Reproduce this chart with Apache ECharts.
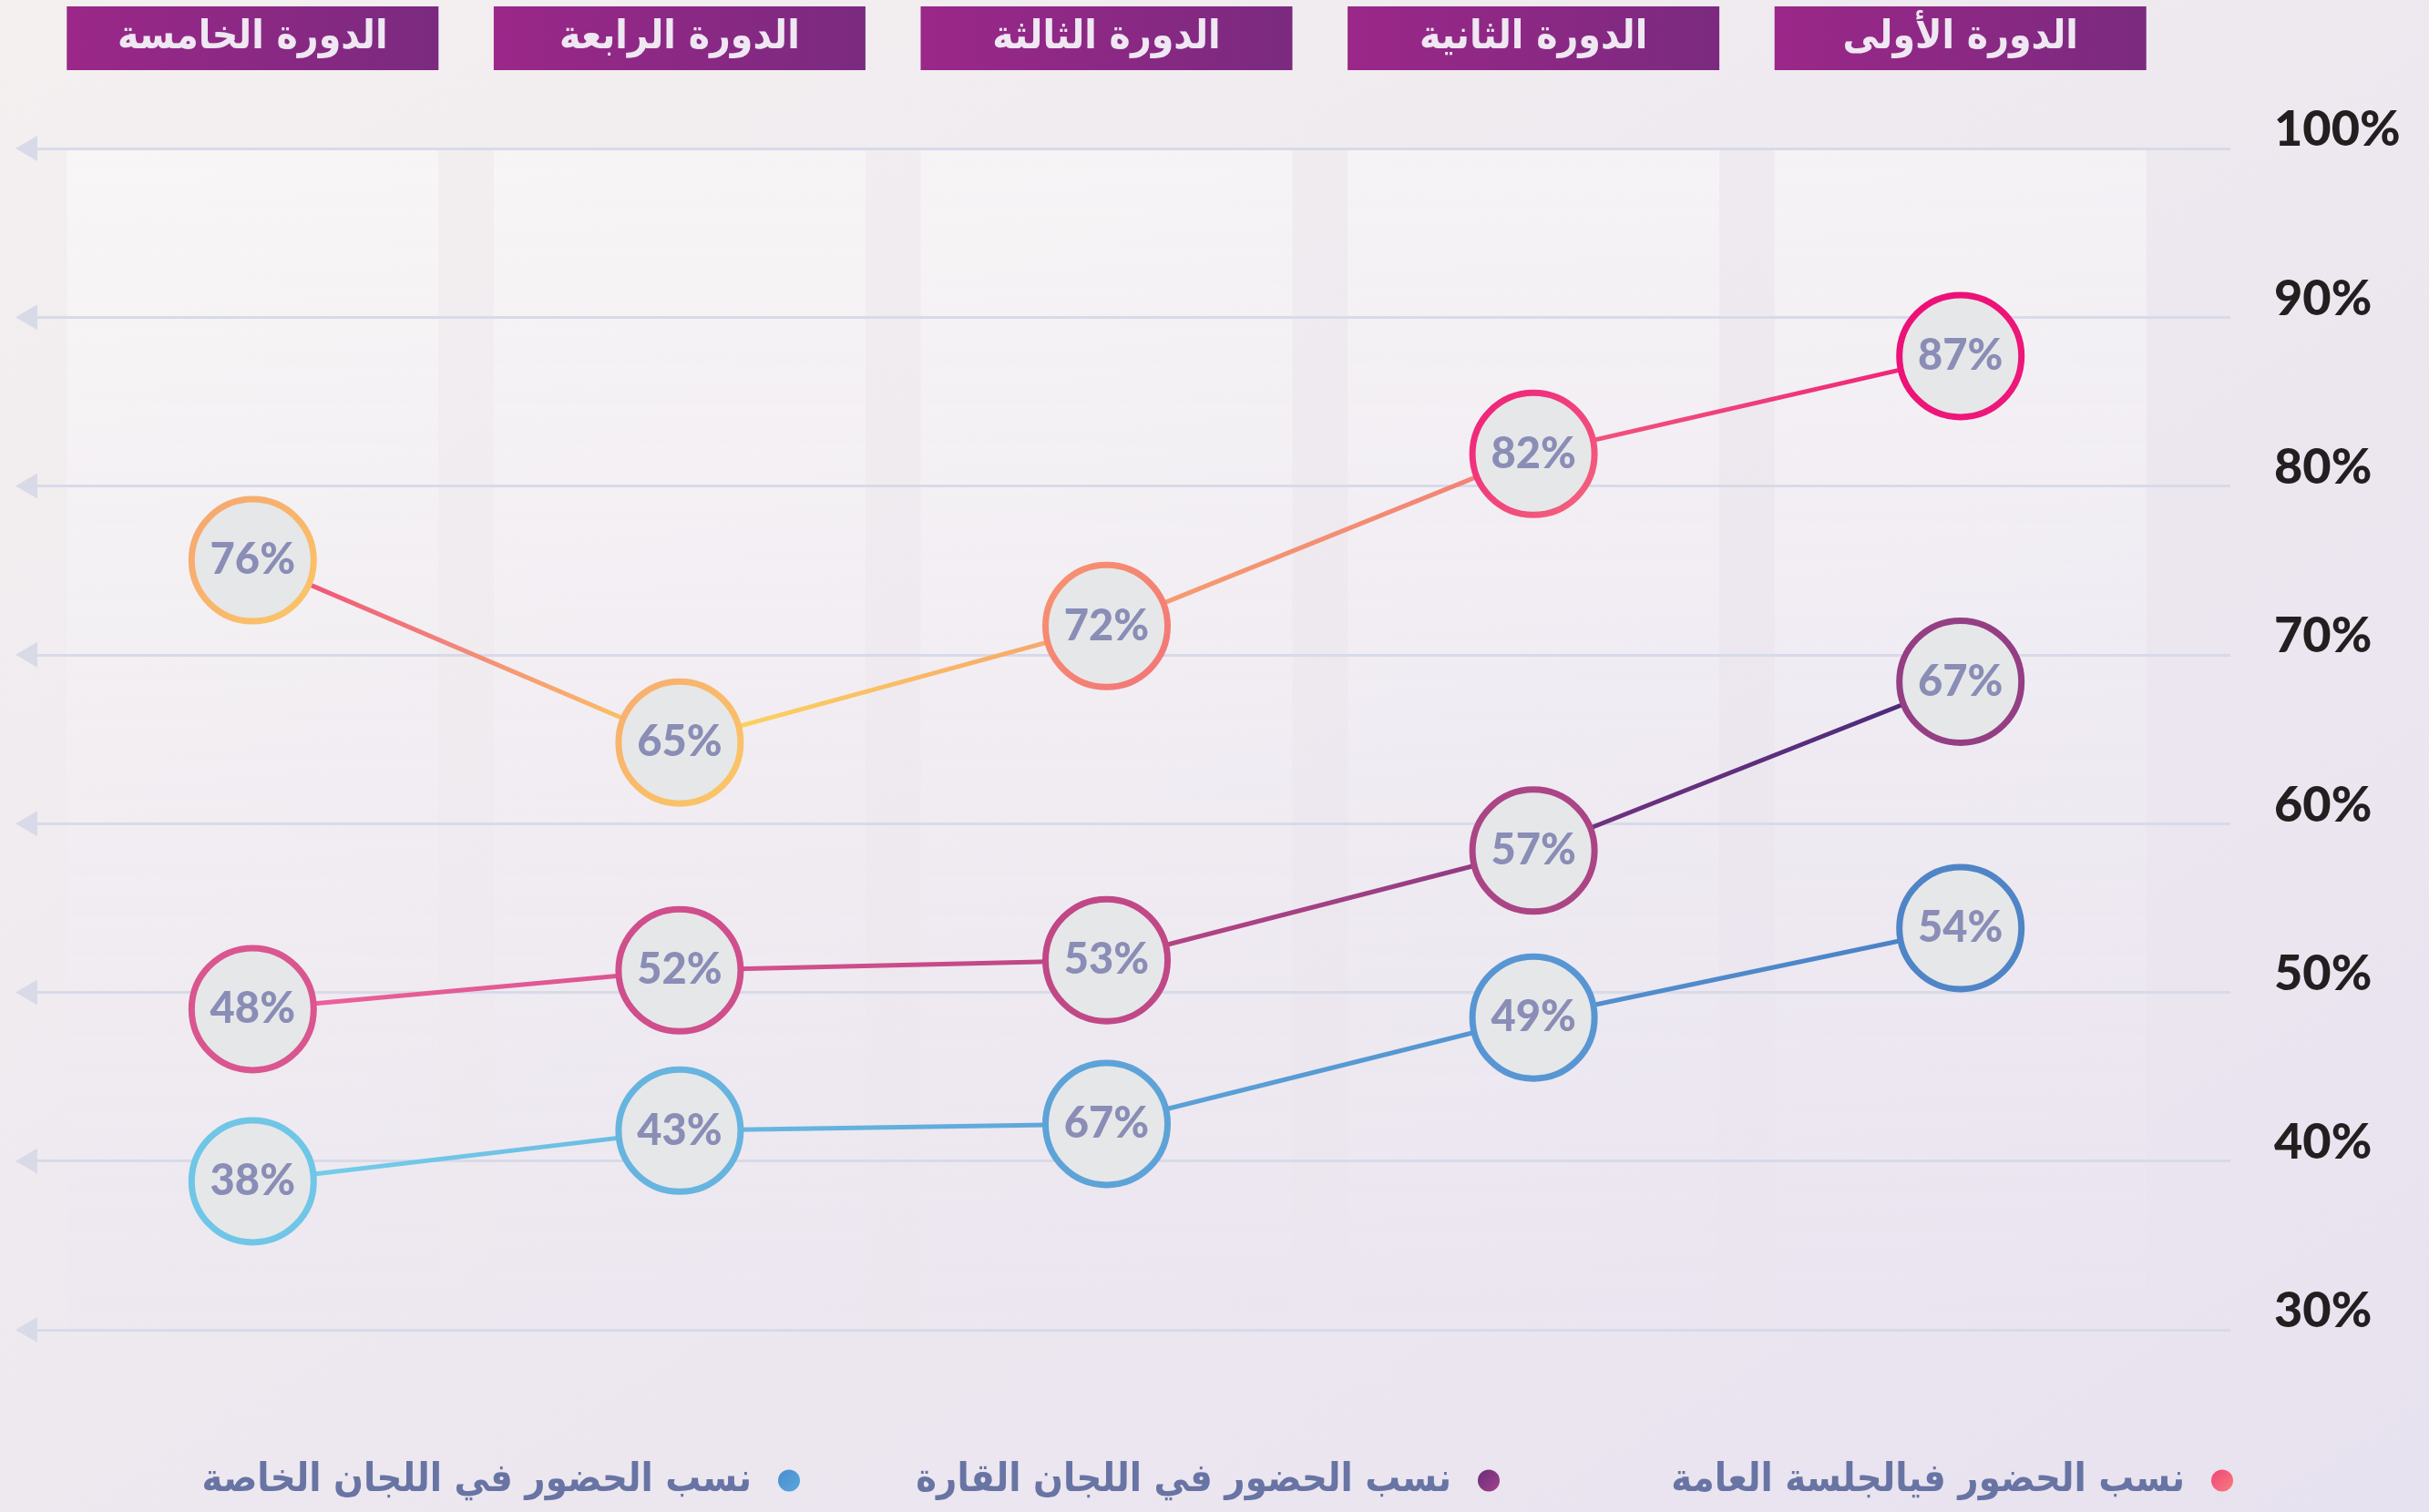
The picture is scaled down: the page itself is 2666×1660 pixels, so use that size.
<!DOCTYPE html>
<html>
<head>
<meta charset="utf-8">
<script src="https://cdn.jsdelivr.net/npm/echarts@6/dist/echarts.min.js"></script>
<style>
  html, body { margin: 0; padding: 0; }
  body { background: linear-gradient(to bottom right, #f4f0f0, #ede8ef 55%, #e7e2ef); }
  #chart { width: 2666px; height: 1660px; }
</style>
</head>
<body>
<div id="chart"></div>
<script>
// الدورات من اليسار إلى اليمين
const categories = ['الدورة الخامسة', 'الدورة الرابعة', 'الدورة الثالثة', 'الدورة الثانية', 'الدورة الأولى'];
const seriesNames = ['نسب الحضور فيالجلسة العامة', 'نسب الحضور في اللجان القارة', 'نسب الحضور في اللجان الخاصة'];

// positions, labels as printed
const generalValues = [75.6, 64.8, 71.7, 81.9, 87.7];
const generalLabels = ['76%', '65%', '72%', '82%', '87%'];
const standingValues = [49.0, 51.3, 51.9, 58.4, 68.4];
const standingLabels = ['48%', '52%', '53%', '57%', '67%'];
const specialValues = [38.8, 41.8, 42.2, 48.5, 53.8];
const specialLabels = ['38%', '43%', '67%', '49%', '54%'];

const yTicks = [30, 40, 50, 60, 70, 80, 90, 100];
const bandTop = [100, 100, 100, 100, 100];
const headerFill = [1, 1, 1, 1, 1];

const G = echarts.graphic.LinearGradient;
const arabicFont = '"DejaVu Sans Condensed", "DejaVu Sans", sans-serif';
const numFont = 'Lato, "Open Sans", sans-serif';

function grad(c1, c2) {
    return new G(0, 0, 1, 1, [{offset: 0, color: c1}, {offset: 1, color: c2}]);
}

const generalBorders = [grad('#f5a472', '#fbc866'), grad('#f7ad70', '#fbc865'), grad('#f7946f', '#f27479'),
    grad('#ee1b7b', '#f36a7d'), grad('#ec0e77', '#ee1a7a')];
const standingBorders = ['#d9568f', '#cf4e8b', '#c14886', '#ab4585', '#943f84'];
const specialBorders = ['#6fc6e6', '#66b4df', '#5da3d8', '#5896d3', '#4f85c6'];

function points(values, borders) {
    return values.map(function (v, i) {
        return {value: v, itemStyle: {borderColor: borders[i]}};
    });
}

function circleLabel(labels) {
    return {
        show: true,
        position: 'inside',
        formatter: function (p) { return labels[p.dataIndex]; },
        color: '#8a8db5',
        fontFamily: numFont,
        fontWeight: 900,
        fontSize: 47
    };
}

let myChart = echarts.init(document.getElementById('chart'));

let lineSeries = function (idx, values, labels, borders, lineColor) {
    return {
        name: seriesNames[idx],
        type: 'line',
        xAxisIndex: 0,
        yAxisIndex: 0,
        data: points(values, borders),
        symbol: 'circle',
        symbolSize: 134,
        z: 5,
        lineStyle: {width: 5, color: lineColor},
        itemStyle: {color: '#e6e7e9', borderWidth: 7},
        label: circleLabel(labels),
        emphasis: {disabled: true}
    };
};

function legendFor(idx, right, c1, c2) {
    return {
        data: [{name: seriesNames[idx], icon: 'circle', itemStyle: {color: grad(c1, c2)}}],
        right: right,
        top: 1599,
        align: 'right',
        itemWidth: 24,
        itemHeight: 24,
        selectedMode: false,
        textStyle: {
            color: '#6874a4',
            fontFamily: arabicFont,
            fontWeight: 'bold',
            fontSize: 43,
            padding: [0, 24, 0, 0]
        }
    };
}

let option = {
    animation: false,
    grid: [
        {left: 43, right: 280, top: 163, bottom: 200},
        {left: 29, right: 218, top: 163, bottom: 200},
        {left: 43, right: 280, top: 7, height: 70}
    ],
    xAxis: [
        {type: 'category', gridIndex: 0, data: categories, show: false},
        {type: 'value', gridIndex: 1, min: 0, max: 1, show: false},
        {type: 'category', gridIndex: 2, data: categories, show: false}
    ],
    yAxis: [
        {type: 'value', gridIndex: 0, min: 30, max: 100, interval: 10, show: false},
        {
            type: 'value', gridIndex: 1, min: 30, max: 100, interval: 10, position: 'right',
            axisLine: {show: false}, axisTick: {show: false}, splitLine: {show: false},
            axisLabel: {
                formatter: '{value}%',
                align: 'left',
                margin: 48,
                verticalAlign: 'bottom',
                lineHeight: 40,
                color: '#231f20',
                fontFamily: numFont,
                fontWeight: 900,
                fontSize: 54
            }
        },
        {type: 'value', gridIndex: 2, min: 0, max: 1, show: false}
    ],
    legend: [
        legendFor(0, 210, '#f0437a', '#f57f7b'),
        legendFor(1, 1015, '#6a2d7c', '#a3418a'),
        legendFor(2, 1783, '#4a8ecf', '#5ba6db')
    ],
    series: [
        {
            // الأشرطة الفاتحة خلف كل دورة
            type: 'bar',
            xAxisIndex: 0,
            yAxisIndex: 0,
            data: bandTop,
            barWidth: 408,
            silent: true,
            z: 0,
            itemStyle: {
                color: new G(0, 0, 0, 1, [
                    {offset: 0, color: 'rgba(255,255,255,0.42)'},
                    {offset: 1, color: 'rgba(236,230,242,0.3)'}
                ])
            }
        },
        {
            // خطوط الشبكة مع الأسهم
            type: 'line',
            xAxisIndex: 1,
            yAxisIndex: 1,
            data: [],
            silent: true,
            markLine: {
                silent: true,
                symbol: ['triangle', 'none'],
                symbolSize: [28, 24],
                label: {show: false},
                lineStyle: {color: '#d8dae8', width: 3, type: 'solid'},
                emphasis: {disabled: true},
                data: yTicks.map(function (v) { return {yAxis: v}; })
            }
        },
        {
            // عناوين الدورات
            type: 'bar',
            xAxisIndex: 2,
            yAxisIndex: 2,
            data: headerFill,
            barWidth: 408,
            silent: true,
            itemStyle: {
                color: new G(0, 0, 1, 0, [
                    {offset: 0, color: '#9b2789'},
                    {offset: 1, color: '#7b2a80'}
                ])
            },
            label: {
                show: true,
                position: 'inside',
                formatter: '{b}',
                color: '#efe7f2',
                fontFamily: arabicFont,
                fontWeight: 'bold',
                fontSize: 44
            }
        },
        lineSeries(0, generalValues, generalLabels, generalBorders, new G(0, 0, 1, 0, [
            {offset: 0, color: '#ee4477'},
            {offset: 0.12, color: '#f2867a'},
            {offset: 0.236, color: '#fcc962'},
            {offset: 0.24, color: '#fddc5c'},
            {offset: 0.5, color: '#f6a06e'},
            {offset: 0.74, color: '#f27f77'},
            {offset: 0.75, color: '#f25a7d'},
            {offset: 1, color: '#ee1f78'}
        ])),
        lineSeries(1, standingValues, standingLabels, standingBorders, new G(0, 0, 1, 0, [
            {offset: 0, color: '#f0639b'},
            {offset: 0.24, color: '#d9548f'},
            {offset: 0.5, color: '#bb4584'},
            {offset: 0.74, color: '#8c3b82'},
            {offset: 0.76, color: '#74337f'},
            {offset: 1, color: '#47297a'}
        ])),
        lineSeries(2, specialValues, specialLabels, specialBorders, new G(0, 0, 1, 0, [
            {offset: 0, color: '#76d0ea'},
            {offset: 0.5, color: '#5ca4d9'},
            {offset: 1, color: '#4a7fc5'}
        ]))
    ]
};
myChart.setOption(option);
</script>
</body>
</html>
